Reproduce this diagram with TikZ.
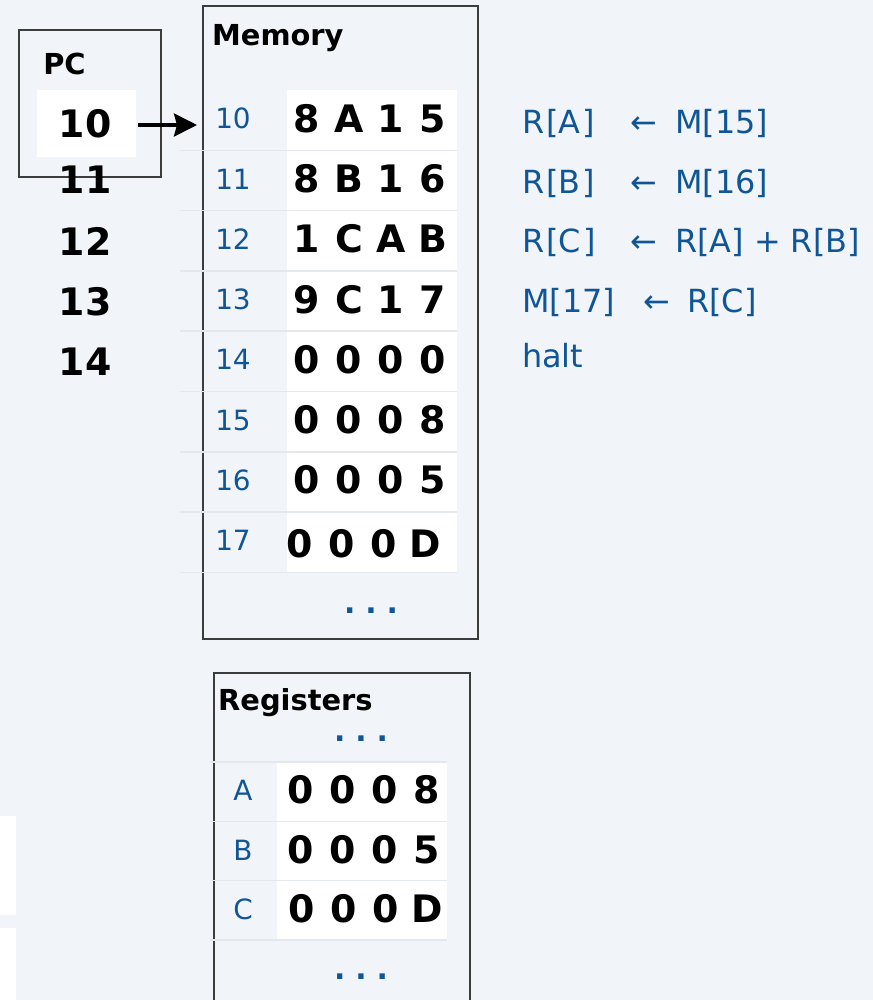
\documentclass[tikz,border=0pt]{standalone}
\usepackage{fontspec}
\setmainfont{DejaVu Sans}
\usetikzlibrary{arrows.meta}

\definecolor{bgc}{RGB}{241,244,248}
\definecolor{addr}{RGB}{16,86,150}
\definecolor{frame}{RGB}{60,60,60}
\definecolor{rulec}{RGB}{228,231,235}

% one 16-bit word, four hex digits on a fixed pitch
\newcommand{\hexword}[4]{\makebox[42bp]{#1}\makebox[42bp]{#2}\makebox[42bp]{#3}\makebox[42bp]{#4}}

\tikzset{
  frm/.style={draw=frame, line width=1.4bp},
  word/.style={font=\fontsize{38}{40}\selectfont\bfseries, anchor=base, inner sep=0pt},
  adr/.style={font=\fontsize{28}{30}\selectfont, text=addr, anchor=base, inner sep=0pt},
  instr/.style={font=\fontsize{32}{34}\selectfont, text=addr, anchor=base west, inner sep=0pt},
  arr/.style={font=\fontsize{32}{34}\selectfont, text=addr, anchor=base, inner sep=0pt},
  heading/.style={font=\fontsize{29}{31}\selectfont\bfseries, anchor=base west, inner sep=0pt},
  more/.style={font=\fontsize{30}{32}\selectfont\bfseries, text=addr, anchor=base, inner sep=0pt},
  sepline/.style={draw=rulec, line width=1.6bp},
  ptr/.style={line width=3.5bp, -{Stealth[length=23bp, width=23bp, inset=3bp]}}
}

\begin{document}
\begin{tikzpicture}[x=1bp, y=-1bp]
\useasboundingbox (0,0) rectangle (873,1000);
\clip (0,0) rectangle (873,1000);
\fill[bgc] (0,0) rectangle (873,1000);

% partial white panels at the left edge
\fill[white] (0,815.7) rectangle (16,915);
\fill[white] (0,928) rectangle (16,1000);

% ---------- PC ----------
\draw[frm] (19,30) rectangle (161,177);
\node[heading, anchor=base] (pclabel) at (64.5,74) {PC};
\node[fill=white, inner sep=0pt, minimum width=99bp, minimum height=67bp] (pcval) at (86.5,123.5) {};
\node[word] (pc10) at (85,137) {10};
\node[word] (pc11) at (85,193) {11};
\node[word] (pc12) at (85,255) {12};
\node[word] (pc13) at (85,315) {13};
\node[word] (pc14) at (85,375) {14};

% ---------- Memory ----------
\draw[frm] (203,6) rectangle (478,639);
\node[heading] (memtitle) at (212,45) {Memory};
\fill[white] (287,90) rectangle (457,572.4);

\node[adr] (m10) at (233,128.7) {10};
\node[adr] (m11) at (233,189.0) {11};
\node[adr] (m12) at (233,249.3) {12};
\node[adr] (m13) at (233,309.6) {13};
\node[adr] (m14) at (233,369.9) {14};
\node[adr] (m15) at (233,430.2) {15};
\node[adr] (m16) at (233,490.5) {16};
\node[adr] (m17) at (233,550.8) {17};

\node[word] (w10) at (370,132.0) {\hexword{8}{A}{1}{5}};
\node[word] (w11) at (370,192.4) {\hexword{8}{B}{1}{6}};
\node[word] (w12) at (370,252.7) {\hexword{1}{C}{A}{B}};
\node[word] (w13) at (370,313.0) {\hexword{9}{C}{1}{7}};
\node[word] (w14) at (370,373.3) {\hexword{0}{0}{0}{0}};
\node[word] (w15) at (370,433.6) {\hexword{0}{0}{0}{8}};
\node[word] (w16) at (370,493.9) {\hexword{0}{0}{0}{5}};
\node[word] (w17) at (362.5,557.0) {\hexword{0}{0}{0}{D}};

\foreach \y in {150.3,210.6,270.9,331.2,391.5,451.8,512.1,572.4}
  \draw[sepline] (180,\y) -- (457,\y);

\node[more] (memmore) at (371,613) {.\,\,.\,\,.};

% program counter points at its word
\coordinate (tip) at (197,125);
\draw[ptr] ([xshift=2bp]pcval.east |- tip) -- (tip);

% ---------- Registers ----------
\draw[frm] (214,673) rectangle (470,1010);
\node[heading] (regtitle) at (218,710) {Registers};
\node[more] (regmore1) at (361,741) {.\,\,.\,\,.};
\fill[white] (277,762) rectangle (447,940);

\node[adr] (ra) at (243,800.5) {A};
\node[adr] (rb) at (243,860.0) {B};
\node[adr] (rc) at (243,919.5) {C};
\node[word] (va) at (364,803) {\hexword{0}{0}{0}{8}};
\node[word] (vb) at (364,863) {\hexword{0}{0}{0}{5}};
\node[word] (vc) at (364.5,922) {\hexword{0}{0}{0}{D}};

\foreach \y in {762,821.3,880.6,940}
  \draw[sepline] (210,\y) -- (447,\y);

\node[more] (regmore2) at (361,979) {.\,\,.\,\,.};

% ---------- program listing ----------
\node[instr] (i1l) at (522,133) {R\kern2bp[A\kern2bp]};
\node[arr]   (i1a) at (644,133) {←};
\node[instr] (i1r) at (675,133) {M[15]};

\node[instr] (i2l) at (522,193) {R\kern2bp[B\kern2bp]};
\node[arr]   (i2a) at (644,193) {←};
\node[instr] (i2r) at (675,193) {M[16]};

\node[instr] (i3l) at (522,252) {R\kern2bp[C\kern2bp]};
\node[arr]   (i3a) at (644,252) {←};
\node[instr] (i3r) at (675,252) {R[A] + R[B]};

\node[instr] (i4l) at (522,312) {M[17]};
\node[arr]   (i4a) at (657,312) {←};
\node[instr] (i4r) at (687,312) {R[C]};

\node[instr] (i5) at (522,367) {halt};
\end{tikzpicture}
\end{document}
